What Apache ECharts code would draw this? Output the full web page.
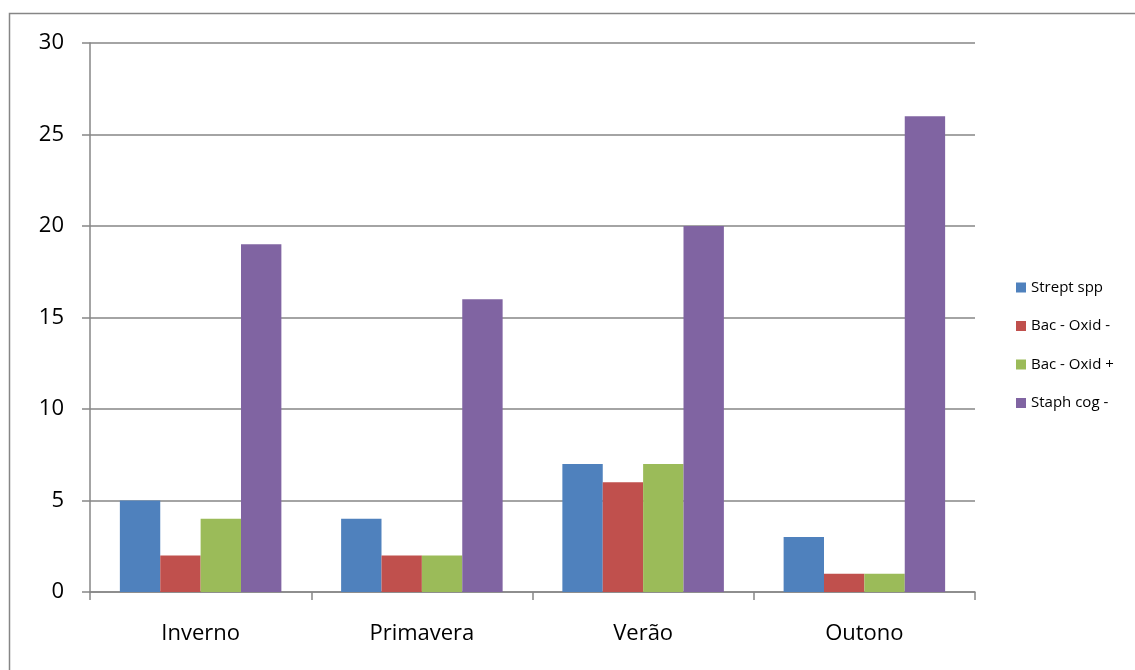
<!DOCTYPE html>
<html>
<head>
<meta charset="utf-8">
<script src="https://cdn.jsdelivr.net/npm/echarts@6/dist/echarts.min.js"></script>
<style>
  html, body { margin: 0; padding: 0; background: #fff; }
  #chart { width: 1135px; height: 670px; }
</style>
</head>
<body>
<div id="chart"></div>
<script>
// seasons on the x axis
const seasons = ['Inverno', 'Primavera', 'Verão', 'Outono'];

// counts per organism, one value per season
const streptSpp = [5, 4, 7, 3];
const bacOxidNeg = [2, 2, 6, 1];
const bacOxidPos = [4, 2, 7, 1];
const staphCogNeg = [19, 16, 20, 26];

const seriesNames = ['Strept spp', 'Bac - Oxid -', 'Bac - Oxid +', 'Staph cog -'];
const seriesValues = [streptSpp, bacOxidNeg, bacOxidPos, staphCogNeg];
const colors = ['#4F81BD', '#C0504D', '#9BBB59', '#8064A2'];

const font = '"Open Sans", "Noto Sans", sans-serif';
const axisGray = '#868686';

const chart = echarts.init(document.getElementById('chart'));

chart.setOption({
  animation: false,
  textStyle: { fontFamily: font },
  graphic: [{
    type: 'rect',
    shape: { x: 9.5, y: 13.5, width: 1140, height: 670 },
    style: { fill: 'none', stroke: axisGray, lineWidth: 1.5 },
    silent: true
  }],
  legend: {
    orient: 'vertical',
    left: 1016,
    top: 280,
    padding: 0,
    itemWidth: 10,
    itemHeight: 10,
    itemGap: 23.5,
    icon: 'rect',
    textStyle: { fontFamily: font, fontSize: 15, lineHeight: 15, color: '#000' },
    data: seriesNames
  },
  grid: { left: 90, top: 43, width: 885, height: 549, containLabel: false },
  xAxis: {
    type: 'category',
    data: seasons,
    axisLine: { lineStyle: { color: axisGray, width: 1.5 } },
    axisTick: { show: true, length: 8, lineStyle: { color: axisGray, width: 1.5 } },
    axisLabel: { color: '#000', fontSize: 22, margin: 31, fontFamily: font }
  },
  yAxis: {
    type: 'value',
    min: 0,
    max: 30,
    interval: 5,
    axisLine: { show: true, lineStyle: { color: axisGray, width: 1.5 } },
    axisTick: { show: true, length: 8, lineStyle: { color: axisGray, width: 1.5 } },
    splitLine: { lineStyle: { color: axisGray, width: 1.5 } },
    axisLabel: { color: '#000', fontSize: 22, margin: 26, fontFamily: font }
  },
  series: seriesNames.map((name, i) => ({
    name: name,
    type: 'bar',
    data: seriesValues[i],
    barGap: '0%',
    barCategoryGap: '27%',
    itemStyle: { color: colors[i] }
  }))
});
</script>
</body>
</html>
